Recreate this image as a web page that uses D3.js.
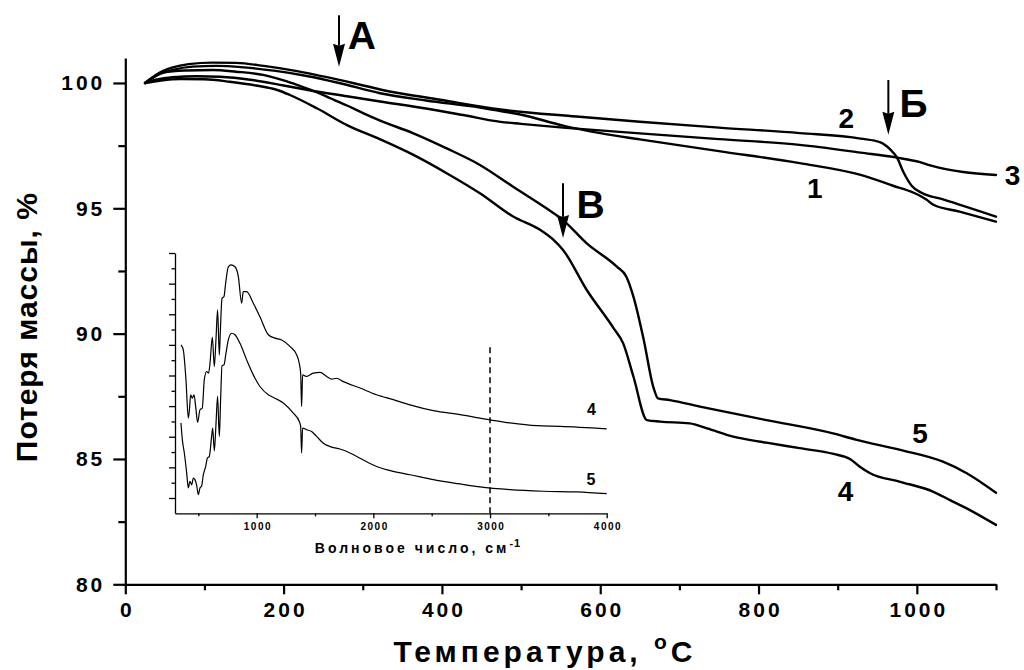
<!DOCTYPE html>
<html>
<head>
<meta charset="utf-8">
<script src="https://cdn.jsdelivr.net/npm/d3@7/dist/d3.min.js"></script>
<style>
  html, body { margin: 0; padding: 0; background: #fff; }
  svg { display: block; }
  text { font-family: "Liberation Sans", Arial, Helvetica, sans-serif; font-weight: bold; fill: #000; }
</style>
</head>
<body>
<svg id="chart" width="1024" height="670"></svg>
<script>
// ---- TGA curves: [temperature °C, mass %] ----
const tga1 = [[25,100],[40,100.3],[60,100.52],[85,100.65],[115,100.68],[150,100.62],[190,100.48],[231,100.27],[270,100.0],[322,99.59],[380,99.3],[448,99.02],[474,98.88],[499,98.74],[553,98.3],[600,98.0],[650,97.75],[750,97.28],[852,96.8],[929,96.33],[970,95.9],[996,95.62],[1012,95.35],[1021,95.14],[1054,94.87],[1100,94.47]];
const tga2 = [[25,100],[40,100.35],[60,100.62],[80,100.75],[110,100.81],[140,100.8],[175,100.68],[217,100.47],[250,100.26],[290,99.98],[322,99.74],[400,99.32],[474,98.94],[570,98.66],[650,98.45],[750,98.22],[852,98.0],[929,97.78],[954,97.63],[966,97.36],[975,97.02],[983,96.45],[994,95.88],[1006,95.62],[1034,95.35],[1100,94.67]];
const tga3 = [[25,100],[40,100.14],[60,100.23],[90,100.27],[120,100.25],[160,100.12],[200,99.9],[231,99.72],[280,99.47],[322,99.26],[380,98.98],[427,98.72],[474,98.45],[500,98.37],[553,98.22],[650,97.99],[750,97.76],[852,97.53],[929,97.22],[975,97.02],[1004,96.84],[1017,96.71],[1100,96.33]];
const tga4 = [[25,100],[45,100.1],[70,100.16],[100,100.15],[132,100.05],[165,99.9],[192,99.72],[208,99.52],[242,98.99],[280,98.32],[322,97.75],[364,97.13],[406,96.4],[448,95.6],[490,94.67],[524,94.14],[541,93.74],[553,93.34],[583,91.74],[617,90.21],[629,89.61],[642,88.28],[659,86.55],[676,86.49],[713,86.42],[735,86.22],[768,85.89],[810,85.65],[852,85.43],[895,85.2],[916,84.99],[928,84.69],[941,84.43],[979,84.09],[1021,83.69],[1042,83.36],[1063,83.03],[1100,82.37]];
const tga5 = [[25,100],[48,100.42],[75,100.5],[111,100.52],[140,100.45],[174,100.32],[200,100.1],[217,99.92],[240,99.65],[259,99.39],[280,99.1],[301,98.79],[322,98.5],[364,97.99],[406,97.39],[448,96.73],[490,95.86],[532,95.0],[553,94.53],[583,93.6],[621,92.67],[633,92.27],[642,91.47],[655,89.75],[667,87.88],[673,87.42],[688,87.35],[726,87.09],[810,86.55],[894,86.02],[924,85.76],[979,85.36],[1033,84.89],[1063,84.43],[1100,83.65]];

// ---- IR spectra (inset): [wavenumber cm-1, transmittance, arb. units] ----
const ir4 = [[351,5.0],[371,4.84],[394,3.86],[414,2.61],[424,2.9],[434,3.37],[448,3.26],[463,3.37],[477,2.99],[494,2.47],[514,2.88],[534,2.94],[551,3.86],[571,4.13],[588,4.08],[600,4.4],[620,5.25],[637,4.29],[651,5.16],[665,6.14],[680,4.67],[688,5.38],[703,6.52],[720,6.58],[734,7.01],[757,7.55],[780,7.61],[814,7.55],[843,7.23],[871,6.36],[885,6.74],[914,6.74],[971,6.36],[1028,5.92],[1100,5.33],[1157,5.22],[1214,5.16],[1285,4.95],[1343,4.67],[1365,4.4],[1377,4.07],[1385,2.99],[1394,4.02],[1428,3.97],[1485,4.08],[1543,4.1],[1600,3.97],[1643,3.88],[1685,3.91],[1743,3.8],[1886,3.59],[2028,3.37],[2171,3.21],[2314,3.04],[2514,2.85],[2743,2.72],[3000,2.55],[3171,2.45],[3400,2.36],[3600,2.34],[4000,2.26]];
const ir5 = [[351,2.45],[363,1.9],[380,1.47],[400,0.82],[414,0.33],[428,0.54],[443,0.43],[457,0.65],[471,0.6],[485,0.43],[500,0.11],[514,0.33],[528,0.39],[543,0.76],[563,1.03],[577,1.3],[594,1.36],[614,2.01],[623,2.28],[637,1.54],[651,2.39],[665,3.32],[680,2.01],[691,3.21],[703,4.32],[720,4.35],[737,4.73],[757,5.16],[786,5.38],[814,5.33],[857,5.05],[914,4.51],[971,4.02],[1028,3.64],[1100,3.37],[1157,3.26],[1228,3.1],[1314,2.77],[1365,2.5],[1377,2.34],[1385,1.47],[1394,2.28],[1428,2.23],[1471,2.17],[1514,2.01],[1571,1.79],[1643,1.66],[1714,1.6],[1800,1.47],[1886,1.3],[2028,1.03],[2171,0.87],[2314,0.76],[2514,0.6],[2743,0.46],[2914,0.36],[3171,0.27],[3457,0.22],[3743,0.2],[4000,0.14]];

// ---- ticks ----
const xMajor = [0, 200, 400, 600, 800, 1000];
const xMinor = [100, 300, 500, 700, 900, 1100];
const yMajor = [80, 85, 90, 95, 100];
const yMinor = [82.5, 87.5, 92.5, 97.5];
const irMajor = [1000, 2000, 3000, 4000];
const irMinor = [500, 1500, 2500, 3500];
const irYMajor = [0, 1, 2, 3, 4, 5, 6, 7, 8];
const irYMinor = [0.5, 1.5, 2.5, 3.5, 4.5, 5.5, 6.5, 7.5];

// ---- annotations (data coordinates) ----
const arrows = [
  { label: "А", t: 270, from: 102.7, to: 100.65, lt: 281, lm: 101.36 },
  { label: "Б", t: 964, from: 100.12, to: 97.93, lt: 978, lm: 98.64 },
  { label: "В", t: 553, from: 96.0, to: 93.82, lt: 570, lm: 94.61 }
];
const curveLabels = [["1", 871, 95.41], ["2", 911, 98.2], ["3", 1121, 95.93], ["4", 910, 83.32], ["5", 1004, 85.65]];
const irLabels = [["4", 3870, 2.72], ["5", 3865, 0.44]];
const irMarker = 3000;

const svg = d3.select("#chart");
svg.append("rect").attr("width", 1024).attr("height", 670).attr("fill", "#fff");

// main scales
const x = d3.scaleLinear().domain([0, 1100]).range([125.3, 996]);
const y = d3.scaleLinear().domain([80, 101]).range([584.3, 57.9]);

function styleAxis(g, lw) {
  g.selectAll(".domain").attr("stroke", "#000").attr("stroke-width", lw);
  g.selectAll(".tick line").attr("stroke", "#000").attr("stroke-width", lw);
}

// x axis
const gx = svg.append("g").attr("transform", `translate(0,${y(80)})`)
  .call(d3.axisBottom(x).tickValues(xMajor).tickSize(10).tickSizeOuter(0).tickPadding(7.5).tickFormat(d3.format("d")));
styleAxis(gx, 2.2);
gx.selectAll("text").attr("font-size", 21).attr("letter-spacing", 3).attr("dx", 1.5)
  .style("font-family", "'Liberation Sans', Arial, sans-serif").style("font-weight", "bold");
const gxm = svg.append("g").attr("transform", `translate(0,${y(80)})`)
  .call(d3.axisBottom(x).tickValues(xMinor).tickSize(6).tickSizeOuter(0).tickFormat(""));
gxm.select(".domain").remove();
styleAxis(gxm, 2.2);

// y axis
const gy = svg.append("g").attr("transform", `translate(${x(0)},0)`)
  .call(d3.axisLeft(y).tickValues(yMajor).tickSize(12).tickSizeOuter(0).tickPadding(8).tickFormat(d3.format("d")));
styleAxis(gy, 2.2);
gy.selectAll("text").attr("font-size", 21).attr("letter-spacing", 3)
  .style("font-family", "'Liberation Sans', Arial, sans-serif").style("font-weight", "bold");
const gym = svg.append("g").attr("transform", `translate(${x(0)},0)`)
  .call(d3.axisLeft(y).tickValues(yMinor).tickSize(7).tickSizeOuter(0).tickFormat(""));
gym.select(".domain").remove();
styleAxis(gym, 2.2);

// axis titles
svg.append("text")
  .attr("transform", `translate(37,${(y(80) + y(101)) / 2 + 6}) rotate(-90)`)
  .attr("text-anchor", "middle").attr("font-size", 30).attr("letter-spacing", 1)
  .text("Потеря массы, %");
const xt = svg.append("text").attr("x", 545).attr("y", 661.7)
  .attr("text-anchor", "middle").attr("font-size", 30).attr("letter-spacing", 4);
xt.append("tspan").text("Температура, ");
xt.append("tspan").attr("font-size", 21).attr("dy", -13).text("о");
xt.append("tspan").attr("dy", 13).text("С");

// TGA curves
const line = d3.line().x(d => x(d[0])).y(d => y(d[1])).curve(d3.curveMonotoneX);
[tga1, tga2, tga3, tga4, tga5].forEach(s => {
  svg.append("path").datum(s).attr("d", line)
    .attr("fill", "none").attr("stroke", "#000").attr("stroke-width", 2.4)
    .attr("stroke-linejoin", "round").attr("stroke-linecap", "round");
});

// curve numbers
svg.selectAll("text.cl").data(curveLabels).enter().append("text")
  .attr("class", "cl").attr("x", d => x(d[1])).attr("y", d => y(d[2]))
  .attr("text-anchor", "middle").attr("font-size", 28).text(d => d[0]);

// arrows
arrows.forEach(a => {
  const ax = x(a.t), y0 = y(a.from), y1 = y(a.to);
  const head = 23, hw = 6;
  svg.append("line").attr("x1", ax).attr("x2", ax).attr("y1", y0).attr("y2", y1 - head + 2)
    .attr("stroke", "#000").attr("stroke-width", 2);
  svg.append("path").attr("d", `M${ax},${y1} L${ax - hw},${y1 - head} L${ax},${y1 - head + 2} L${ax + hw},${y1 - head} Z`)
    .attr("fill", "#000");
  svg.append("text").attr("x", x(a.lt)).attr("y", y(a.lm)).attr("font-size", 39).text(a.label);
});

// ---- inset: IR spectra ----
const ix = d3.scaleLinear().domain([300, 4000]).range([175, 606.7]);
const iy = d3.scaleLinear().domain([-0.5, 8]).range([513.3, 253]);

const gix = svg.append("g").attr("transform", `translate(0,${iy(-0.5)})`)
  .call(d3.axisBottom(ix).tickValues(irMajor).tickSize(5).tickSizeOuter(0).tickPadding(4.6).tickFormat(d3.format("d")));
styleAxis(gix, 1.3);
gix.selectAll("text").attr("font-size", 10).attr("letter-spacing", 1.5).attr("dx", 0.75)
  .style("font-family", "'Liberation Sans', Arial, sans-serif").style("font-weight", "bold");
const gixm = svg.append("g").attr("transform", `translate(0,${iy(-0.5)})`)
  .call(d3.axisBottom(ix).tickValues(irMinor).tickSize(3).tickSizeOuter(0).tickFormat(""));
gixm.select(".domain").remove();
styleAxis(gixm, 1.3);

const giy = svg.append("g").attr("transform", `translate(${ix(300)},0)`)
  .call(d3.axisLeft(iy).tickValues(irYMajor).tickSize(6).tickSizeOuter(0).tickFormat(""));
styleAxis(giy, 1.3);
const giym = svg.append("g").attr("transform", `translate(${ix(300)},0)`)
  .call(d3.axisLeft(iy).tickValues(irYMinor).tickSize(3.5).tickSizeOuter(0).tickFormat(""));
giym.select(".domain").remove();
styleAxis(giym, 1.3);

// dashed marker
svg.append("line").attr("x1", ix(irMarker)).attr("x2", ix(irMarker))
  .attr("y1", iy(-0.5)).attr("y2", iy(4.95))
  .attr("stroke", "#000").attr("stroke-width", 1.5).attr("stroke-dasharray", "6,4");

const irLine = d3.line().x(d => ix(d[0])).y(d => iy(d[1])).curve(d3.curveMonotoneX);
[ir4, ir5].forEach(s => {
  svg.append("path").datum(s).attr("d", irLine)
    .attr("fill", "none").attr("stroke", "#000").attr("stroke-width", 1.2)
    .attr("stroke-linejoin", "round");
});

svg.selectAll("text.il").data(irLabels).enter().append("text")
  .attr("class", "il").attr("x", d => ix(d[1])).attr("y", d => iy(d[2]))
  .attr("text-anchor", "middle").attr("font-size", 16).text(d => d[0]);

const it = svg.append("text").attr("x", 418).attr("y", 553)
  .attr("text-anchor", "middle").attr("font-size", 14).attr("letter-spacing", 3);
it.append("tspan").text("Волновое число, см");
it.append("tspan").attr("font-size", 11).attr("dy", -6).attr("letter-spacing", 1).text("-1");
</script>
</body>
</html>
